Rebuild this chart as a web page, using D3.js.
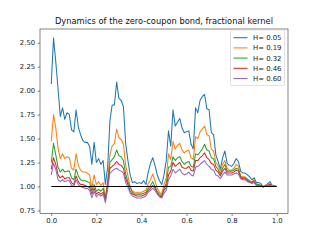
<!DOCTYPE html>
<html>
<head>
<meta charset="utf-8">
<script src="https://cdn.jsdelivr.net/npm/d3@7"></script>
<style>
  body { margin: 0; background: #fff; }
  svg { display: block; font-family: "DejaVu Sans", sans-serif; }
</style>
</head>
<body>
<svg id="chart" width="320" height="240"></svg>
<script>
// time grid of the simulation
var time = [0.00,0.01,0.02,0.03,0.04,0.05,0.06,0.07,0.08,0.09,
  0.10,0.11,0.12,0.13,0.14,0.15,0.16,0.17,0.18,0.19,
  0.20,0.21,0.22,0.23,0.24,0.25,0.26,0.27,0.28,0.29,
  0.30,0.31,0.32,0.33,0.34,0.35,0.36,0.37,0.38,0.39,
  0.40,0.41,0.42,0.43,0.44,0.45,0.46,0.47,0.48,0.49,
  0.50,0.51,0.52,0.53,0.54,0.55,0.56,0.57,0.58,0.59,
  0.60,0.61,0.62,0.63,0.64,0.65,0.66,0.67,0.68,0.69,
  0.70,0.71,0.72,0.73,0.74,0.75,0.76,0.77,0.78,0.79,
  0.80,0.81,0.82,0.83,0.84,0.85,0.86,0.87,0.88,0.89,
  0.90,0.91,0.92,0.93,0.94,0.95,0.96,0.97,0.98,0.99,1.00];

var hurst = ["H= 0.05", "H= 0.19", "H= 0.32", "H= 0.46", "H= 0.60"];

var h005 = [2.07,2.55,2.30,2.02,1.73,1.82,1.70,1.77,1.75,1.59,
  1.57,1.80,1.62,1.54,1.48,1.46,1.46,1.42,1.23,1.46,
  1.25,1.29,1.23,1.27,1.02,1.20,1.68,1.85,1.85,2.09,
  1.92,1.90,1.83,1.45,1.27,1.12,1.04,1.05,1.03,1.04,
  1.03,1.06,1.02,1.15,1.24,1.30,1.22,1.12,1.06,1.02,
  1.12,1.27,1.58,1.42,1.80,1.63,1.67,1.71,1.61,1.56,
  1.57,1.58,1.44,1.39,1.82,1.77,1.90,1.94,1.96,1.81,
  1.80,1.56,1.54,1.33,1.26,1.18,1.30,1.37,1.24,1.22,
  1.21,1.24,1.29,1.26,1.16,1.14,1.14,1.12,1.10,1.07,
  1.09,1.04,1.04,1.03,0.99,1.01,1.03,1.05,1.01,1.01,1.00];

var h019 = [1.47,1.75,1.61,1.40,1.29,1.34,1.29,1.31,1.30,1.19,
  1.17,1.34,1.22,1.17,1.15,1.15,1.14,1.12,0.98,1.12,
  1.02,1.05,1.01,1.04,0.87,1.06,1.33,1.42,1.45,1.60,
  1.51,1.49,1.44,1.22,1.11,1.00,0.95,0.94,0.94,0.93,
  0.94,0.95,0.96,1.03,1.07,1.13,1.06,0.98,0.94,0.92,
  1.02,1.09,1.34,1.28,1.47,1.39,1.43,1.45,1.38,1.35,
  1.37,1.38,1.30,1.28,1.52,1.50,1.57,1.60,1.63,1.54,
  1.53,1.39,1.37,1.25,1.22,1.16,1.23,1.27,1.19,1.17,
  1.17,1.19,1.23,1.21,1.11,1.10,1.10,1.08,1.06,1.05,
  1.07,1.02,1.02,1.01,1.00,1.01,1.02,1.03,1.01,1.01,1.00];

var h032 = [1.25,1.45,1.33,1.20,1.15,1.18,1.15,1.16,1.16,1.09,
  1.07,1.18,1.11,1.07,1.06,1.06,1.05,1.04,0.95,1.02,
  0.95,0.97,0.95,0.98,0.88,1.03,1.25,1.28,1.31,1.38,
  1.32,1.31,1.27,1.13,1.05,0.99,0.94,0.92,0.92,0.92,
  0.92,0.93,0.94,0.98,1.01,1.05,1.00,0.95,0.92,0.90,
  0.98,1.03,1.20,1.21,1.31,1.27,1.30,1.31,1.26,1.23,
  1.25,1.26,1.21,1.20,1.34,1.33,1.36,1.39,1.44,1.38,
  1.37,1.30,1.29,1.21,1.18,1.13,1.19,1.23,1.16,1.16,
  1.16,1.17,1.19,1.18,1.10,1.09,1.09,1.07,1.05,1.04,
  1.06,1.02,1.02,1.01,1.00,1.01,1.01,1.02,1.01,1.00,1.00];

var h046 = [1.18,1.30,1.23,1.12,1.09,1.11,1.08,1.09,1.09,1.04,
  1.02,1.11,1.05,1.02,1.02,1.01,1.00,0.99,0.92,0.98,
  0.92,0.94,0.92,0.94,0.86,1.00,1.19,1.21,1.23,1.26,
  1.23,1.22,1.19,1.08,1.02,0.95,0.92,0.91,0.90,0.90,
  0.90,0.91,0.92,0.96,0.98,1.01,0.98,0.93,0.90,0.89,
  0.96,0.99,1.12,1.16,1.25,1.21,1.23,1.25,1.20,1.19,
  1.19,1.21,1.17,1.16,1.27,1.27,1.30,1.32,1.35,1.30,
  1.28,1.24,1.23,1.17,1.15,1.11,1.16,1.19,1.14,1.14,
  1.14,1.15,1.17,1.16,1.09,1.08,1.08,1.06,1.05,1.04,
  1.05,1.01,1.01,1.01,1.00,1.00,1.01,1.02,1.01,1.00,1.00];

var h060 = [1.12,1.24,1.18,1.07,1.05,1.07,1.05,1.06,1.06,1.01,
  1.00,1.07,1.02,1.00,0.99,0.98,0.98,0.96,0.88,0.95,
  0.89,0.92,0.90,0.92,0.83,0.97,1.14,1.16,1.18,1.19,
  1.17,1.16,1.14,1.04,0.99,0.93,0.90,0.89,0.88,0.88,
  0.88,0.89,0.90,0.94,0.96,0.98,0.96,0.92,0.89,0.88,
  0.93,0.96,1.07,1.11,1.18,1.14,1.16,1.18,1.14,1.12,
  1.13,1.15,1.12,1.11,1.20,1.21,1.23,1.25,1.27,1.23,
  1.21,1.18,1.17,1.12,1.11,1.08,1.12,1.15,1.12,1.12,
  1.12,1.13,1.14,1.13,1.08,1.07,1.07,1.05,1.04,1.03,
  1.04,1.01,1.01,1.00,1.00,1.00,1.01,1.01,1.01,1.00,1.00];

var series = [h005, h019, h032, h046, h060];
var colors = ["#1f77b4", "#ff7f0e", "#2ca02c", "#d62728", "#9467bd"];
var xTicks = [0.0, 0.2, 0.4, 0.6, 0.8, 1.0];
var yTicks = [0.75, 1.00, 1.25, 1.50, 1.75, 2.00, 2.25, 2.50];

var svg = d3.select("#chart"),
    plotLeft = 40, plotRight = 288, plotTop = 29, plotBottom = 213.6;

var x = d3.scaleLinear().domain([-0.05, 1.05]).range([plotLeft, plotRight]);
var y = d3.scaleLinear().domain([0.7165, 2.6435]).range([plotBottom, plotTop]);

var line = d3.line()
    .x(function (d, i) { return x(time[i]); })
    .y(function (d) { return y(d); });

var g = svg.append("g");

series.forEach(function (s, k) {
  g.append("path")
    .datum(s)
    .attr("d", line)
    .attr("fill", "none")
    .attr("stroke", colors[k])
    .attr("stroke-width", 1.05)
    .attr("stroke-linejoin", "round");
});

// reference level at par
g.append("line")
  .attr("x1", x(0)).attr("x2", x(1))
  .attr("y1", y(1)).attr("y2", y(1))
  .attr("stroke", "black")
  .attr("stroke-width", 1.05);

// frame
svg.append("rect")
  .attr("x", plotLeft).attr("y", plotTop)
  .attr("width", plotRight - plotLeft).attr("height", plotBottom - plotTop)
  .attr("fill", "none").attr("stroke", "#333").attr("stroke-width", 0.6);

var xAxis = svg.append("g")
  .attr("transform", "translate(0," + plotBottom + ")")
  .call(d3.axisBottom(x).tickValues(xTicks).tickFormat(d3.format(".1f")).tickSize(2.4).tickPadding(2.4));

var yAxis = svg.append("g")
  .attr("transform", "translate(" + plotLeft + ",0)")
  .call(d3.axisLeft(y).tickValues(yTicks).tickFormat(d3.format(".2f")).tickSize(2.4).tickPadding(2.4));

[xAxis, yAxis].forEach(function (a) {
  a.select(".domain").remove();
  a.selectAll(".tick line").attr("stroke", "#333").attr("stroke-width", 0.6);
  a.selectAll(".tick text")
    .attr("fill", "#222")
    .style("font-family", "DejaVu Sans")
    .style("font-size", "6.9px");
});

svg.append("text")
  .attr("x", (plotLeft + plotRight) / 2)
  .attr("y", 24)
  .attr("text-anchor", "middle")
  .style("font-size", "8.3px")
  .attr("fill", "#111")
  .text("Dynamics of the zero-coupon bond, fractional kernel");

// legend
var leg = svg.append("g");
leg.append("rect")
  .attr("x", 230.5).attr("y", 30)
  .attr("width", 54).attr("height", 55.5)
  .attr("rx", 1.5)
  .attr("fill", "white").attr("fill-opacity", 0.8)
  .attr("stroke", "#ccc").attr("stroke-width", 0.6);

hurst.forEach(function (name, k) {
  var cy = 37.7 + k * 10.2;
  leg.append("line")
    .attr("x1", 233.5).attr("x2", 247.5)
    .attr("y1", cy).attr("y2", cy)
    .attr("stroke", colors[k]).attr("stroke-width", 1.05);
  leg.append("text")
    .attr("x", 253).attr("y", cy + 2.5)
    .style("font-size", "6.9px")
    .attr("fill", "#222")
    .text(name);
});
</script>
</body>
</html>
